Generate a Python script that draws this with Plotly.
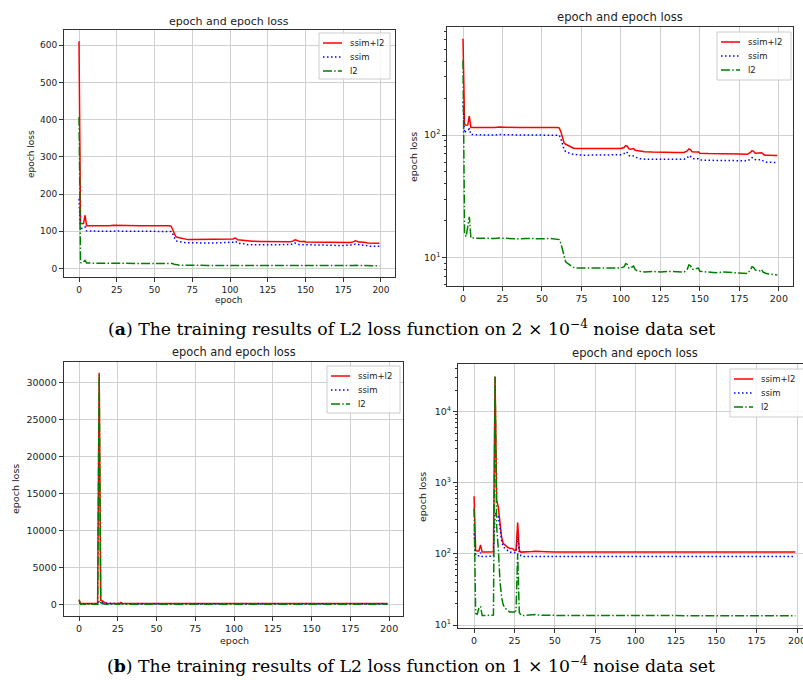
import plotly.graph_objects as go

W, H = 803, 680

# ---------------- data ----------------
# dataset (a): 2e-4 noise
epochs_a = [0, 1, 2, 3, 4, 5, 10, 15, 20, 23, 26, 30, 35, 40, 45, 50, 55, 60, 61, 62,
            63, 64, 65, 66, 67, 68, 70, 72, 75, 80, 85, 90, 95, 100, 102, 103, 104, 105, 106, 107,
            108, 109, 110, 112, 115, 120, 125, 130, 135, 140, 142, 143, 144, 145, 146, 148, 149, 150, 155, 160,
            165, 170, 175, 180, 182, 183, 184, 185, 186, 188, 189, 190, 191, 192, 195, 199]
ssim_l2_a = [611, 122, 120, 121, 143, 115, 115, 114.5, 115, 116, 115.5, 115, 115, 115, 114.5, 115, 115, 115, 114, 106,
             97, 86, 84, 83, 82, 80, 78, 77.5, 77.5, 77.5, 77, 77.5, 77, 77.5, 79, 82, 81, 77, 76.5, 77,
             77.5, 75, 74.5, 73.5, 73, 72.5, 72, 72.5, 72, 72, 74, 77, 76, 73, 72.5, 72.5, 73, 71, 70.5, 70.5,
             70.5, 70, 70, 69.5, 72, 74.5, 73.5, 71, 71, 71, 71.5, 70, 68.5, 68.5, 68.5, 68]
ssim_a = [187, 104, 108, 110, 112, 101, 100, 100, 100, 101, 100.5, 100, 100, 100, 100, 100, 100, 100, 99.5, 93,
          85, 76, 73, 72, 71, 70.5, 69.5, 69, 68.5, 68.5, 68.5, 68.5, 68.5, 69, 70.5, 73, 72, 68, 67, 67,
          67.5, 66, 65, 64, 63.5, 63.5, 63.5, 63.5, 63.5, 63.5, 65, 68, 67, 64.5, 64, 64, 64, 62.5, 62, 62,
          62, 62, 61.5, 61.5, 63.5, 65.5, 65, 63, 62.5, 62.5, 63, 61.5, 60.5, 60, 60, 59.5]
l2_a = [407, 15.5, 14.8, 18, 21.5, 14.4, 14.3, 14.2, 14.3, 14.4, 14.3, 14.3, 14.2, 14.3, 14.2, 14.2, 14.3, 14.2, 14, 13,
        11.5, 10.2, 9.2, 9, 8.8, 8.7, 8.3, 8.2, 8.2, 8.1, 8.1, 8.2, 8.1, 8.2, 8.4, 8.9, 8.8, 8.2, 8.2, 8.4,
        8.5, 8.0, 7.8, 7.7, 7.6, 7.7, 7.6, 7.7, 7.7, 7.6, 8.0, 8.7, 8.6, 8.0, 8.0, 8.1, 8.2, 7.7, 7.6, 7.5,
        7.6, 7.5, 7.5, 7.4, 7.9, 8.4, 8.3, 7.9, 7.8, 7.8, 8.0, 7.6, 7.5, 7.4, 7.3, 7.2]

# dataset (b): 1e-4 noise
epochs_b = [0, 1, 2, 3, 4, 5, 8, 11, 12, 13, 14, 15, 16, 17, 18, 19, 20, 21, 22, 24,
            25, 26, 27, 28, 29, 30, 33, 36, 38, 40, 45, 50, 60, 70, 80, 90, 100, 110, 120, 130,
            140, 150, 160, 170, 180, 190, 199]
ssim_l2_b = [647, 111, 110, 110, 134, 106, 106, 106, 107, 31300, 569, 459, 269, 175, 141, 134, 126, 123, 120, 118,
             111, 113, 277, 113, 106, 106, 107, 108, 109, 108, 107, 106, 106, 106, 106, 106, 106, 106, 106, 106,
             106, 106, 106, 106, 106, 106, 106]
ssim_b = [195, 97, 94, 94, 104, 92, 92, 92, 93, 380, 351, 332, 241, 157, 126, 120, 113, 110, 106, 105,
          104, 106, 175, 106, 94, 92, 92, 93, 93, 92, 92, 92, 92, 92, 92, 92, 92, 92, 92, 92,
          92, 92, 92, 92, 92, 92, 92]
l2_b = [436, 14.5, 14.2, 17.4, 18.3, 13.6, 13.6, 13.6, 13.8, 31000, 240, 120, 43, 25, 19.4, 17.4, 16.5, 15.6, 15.3, 15.3,
        15.2, 16, 102, 15, 13.8, 13.6, 13.6, 13.9, 14, 13.8, 13.7, 13.6, 13.6, 13.6, 13.6, 13.6, 13.6, 13.6, 13.6, 13.6,
        13.6, 13.6, 13.6, 13.6, 13.6, 13.6, 13.5]

series_names = ["ssim+l2", "ssim", "l2"]
x_ticks = [0, 25, 50, 75, 100, 125, 150, 175, 200]
y_ticks_a_lin = [0, 100, 200, 300, 400, 500, 600]
y_ticks_b_lin = [0, 5000, 10000, 15000, 20000, 25000, 30000]
y_ticks_a_log = [10, 100]
y_labels_a_log = ["10<sup>1</sup>", "10<sup>2</sup>"]
y_ticks_b_log = [10, 100, 1000, 10000]
y_labels_b_log = ["10<sup>1</sup>", "10<sup>2</sup>", "10<sup>3</sup>", "10<sup>4</sup>"]
panel_title = "epoch and epoch loss"
x_label = "epoch"
y_label = "epoch loss"
caption_a = "(<b>a</b>) The training results of L2 loss function on 2 × 10<sup>−4</sup> noise data set"
caption_b = "(<b>b</b>) The training results of L2 loss function on 1 × 10<sup>−4</sup> noise data set"

# ---------------- styling ----------------
SANS = "DejaVu Sans"
SERIF = "DejaVu Serif"
TXT = "#222222"
FRAME = "#333333"
GRID = "#d0d0d0"
styles = [
    dict(color="#ff0000", width=1.5, dash="solid"),
    dict(color="#0000ff", width=1.5, dash="1.5px,2.5px"),
    dict(color="#008000", width=1.5, dash="9px,2.2px,1.5px,2.2px"),
]


def px(x):
    return x / W


def py(y):
    return 1 - y / H


# panel geometry in pixels: (left, right, top, bottom)
panels = [
    dict(box=(64, 394.5, 30, 277), xr=[-9.95, 208.95], ytype="linear", yr=[-23, 641],
         yt=y_ticks_a_lin, ytt=None, fs=9, tfs=11, data="a", leg=(319, 33, 71, 46),
         title_xy=(229, 21), ylab_xy=(31, 154), xlab_xy=(229, 300), mirror_y=True),
    dict(box=(447.3, 793, 27, 286), xr=[-9.95, 208.95], ytype="log", yr=[0.767, 2.882],
         yt=y_ticks_a_log, ytt=y_labels_a_log, fs=9.5, tfs=11.6, data="a", leg=(717, 32, 74, 48),
         title_xy=(620, 17), ylab_xy=(413, 157), xlab_xy=None, mirror_y=True),
    dict(box=(63.6, 403, 362, 616), xr=[-9.95, 208.95], ytype="linear", yr=[-1568, 32757],
         yt=y_ticks_b_lin, ytt=None, fs=9.5, tfs=11.4, data="b", leg=(327, 366, 73, 47),
         title_xy=(234, 352), ylab_xy=(15, 489), xlab_xy=(234, 640), mirror_y=True),
    dict(box=(458, 803, 364, 628), xr=[-9.95, 203.7], ytype="log", yr=[0.958, 4.671],
         yt=y_ticks_b_log, ytt=y_labels_b_log, fs=9.5, tfs=11.6, data="b", leg=(730, 369, 74, 48),
         title_xy=(635, 353), ylab_xy=(423, 497), xlab_xy=None, mirror_y=False),
]

datasets = {
    "a": (epochs_a, [ssim_l2_a, ssim_a, l2_a]),
    "b": (epochs_b, [ssim_l2_b, ssim_b, l2_b]),
}

fig = go.Figure()
annotations = []
shapes = []
layout = dict(
    width=W, height=H,
    margin=dict(l=0, r=0, t=0, b=0, autoexpand=False),
    paper_bgcolor="white", plot_bgcolor="white",
    font=dict(family=SANS, color=TXT, size=9),
    showlegend=False,
)

for i, p in enumerate(panels, start=1):
    sfx = "" if i == 1 else str(i)
    epochs, series = datasets[p["data"]]
    for name, vals, st in zip(series_names, series, styles):
        fig.add_trace(go.Scatter(
            x=epochs, y=vals, mode="lines", name=name,
            line=st, xaxis=f"x{sfx}", yaxis=f"y{sfx}",
            hoverinfo="skip",
        ))
    l, r, t, b = p["box"]
    layout[f"xaxis{sfx}"] = dict(
        domain=[px(l), px(r)], range=p["xr"], anchor=f"y{sfx}",
        tickmode="array", tickvals=x_ticks,
        ticks="outside", ticklen=4, tickwidth=1, tickcolor=FRAME,
        showline=True, linecolor=FRAME, linewidth=1, mirror=True,
        showgrid=True, gridcolor=GRID, gridwidth=1, zeroline=False,
        tickfont=dict(family=SANS, size=p["fs"], color=TXT),
        ticklabeloverflow="allow", fixedrange=True,
    )
    yax = dict(
        domain=[py(b), py(t)], range=p["yr"], type=p["ytype"], anchor=f"x{sfx}",
        tickmode="array", tickvals=p["yt"],
        ticks="outside", ticklen=4, tickwidth=1, tickcolor=FRAME,
        showline=True, linecolor=FRAME, linewidth=1, mirror=p["mirror_y"],
        showgrid=True, gridcolor=GRID, gridwidth=1, zeroline=False,
        tickfont=dict(family=SANS, size=p["fs"], color=TXT),
        fixedrange=True,
    )
    if p["ytt"] is not None:
        yax["ticktext"] = p["ytt"]
        lo, hi = p["yr"]
        minor_vals = []
        for dec in range(int(lo) - 1, int(hi) + 2):
            for k in range(2, 10):
                minor_vals.append(k * 10 ** dec)
        yax["minor"] = dict(tickmode="array", tickvals=minor_vals, ticks="outside",
                            ticklen=2, tickwidth=0.8, tickcolor=FRAME, showgrid=False)
    else:
        yax["tickformat"] = "d"
    layout[f"yaxis{sfx}"] = yax

    # legend box (matplotlib style)
    lx, ly, lw, lh = p["leg"]
    shapes.append(dict(type="rect", xref="paper", yref="paper",
                       x0=px(lx), x1=px(lx + lw), y0=py(ly + lh), y1=py(ly),
                       line=dict(color="#cccccc", width=1), fillcolor="rgba(255,255,255,0.85)",
                       layer="above"))
    for k, (name, st) in enumerate(zip(series_names, styles)):
        rowy = ly + 10 + k * 14
        shapes.append(dict(type="line", xref="paper", yref="paper",
                           x0=px(lx + 4), x1=px(lx + 23), y0=py(rowy), y1=py(rowy),
                           line=dict(color=st["color"], width=st["width"], dash=st["dash"]),
                           layer="above"))
        annotations.append(dict(text=name, x=px(lx + 29), y=py(rowy), xref="paper", yref="paper",
                                xanchor="left", yanchor="middle", showarrow=False,
                                font=dict(family=SANS, size=8.5, color=TXT)))

    tx, ty = p["title_xy"]
    annotations.append(dict(text=panel_title, x=px(tx), y=py(ty), xref="paper", yref="paper",
                            xanchor="center", yanchor="middle", showarrow=False,
                            font=dict(family=SANS, size=p["tfs"], color=TXT)))
    yx, yy = p["ylab_xy"]
    annotations.append(dict(text=y_label, x=px(yx), y=py(yy), xref="paper", yref="paper",
                            xanchor="center", yanchor="middle", showarrow=False, textangle=-90,
                            font=dict(family=SANS, size=p["fs"], color=TXT)))
    if p["xlab_xy"] is not None:
        xx, xy = p["xlab_xy"]
        annotations.append(dict(text=x_label, x=px(xx), y=py(xy), xref="paper", yref="paper",
                                xanchor="center", yanchor="middle", showarrow=False,
                                font=dict(family=SANS, size=p["fs"], color=TXT)))

for cap, cy in ((caption_a, 328), (caption_b, 665)):
    annotations.append(dict(text=cap, x=px(411), y=py(cy), xref="paper", yref="paper",
                            xanchor="center", yanchor="middle", showarrow=False,
                            font=dict(family=SERIF, size=17.3, color="#000000")))

layout["annotations"] = annotations
layout["shapes"] = shapes
fig.update_layout(**layout)

fig.write_html("out.html", config={"displayModeBar": False},
               post_script="document.body.style.margin='0px';")
